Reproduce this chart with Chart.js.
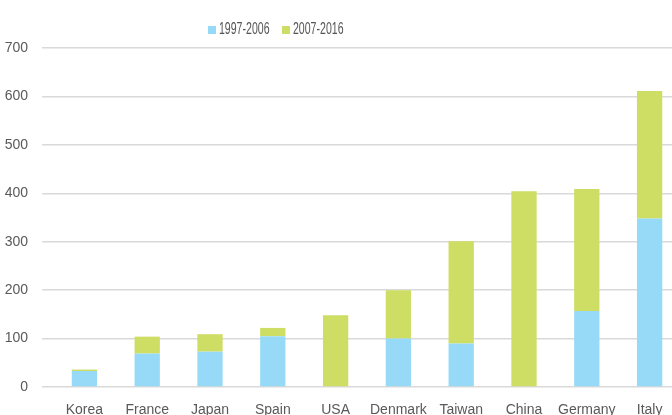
<!DOCTYPE html>
<html>
<head>
<meta charset="utf-8">
<script src="https://cdn.jsdelivr.net/npm/chart.js@4"></script>
<style>
    html, body { margin: 0; padding: 0; overflow: hidden; background: #fff; }
    #wrap { position: absolute; left: 0; top: 0; width: 690px; height: 430px; }
    #legend { position: absolute; left: 0; top: 0; }
    #legend .box { position: absolute; top: 26px; width: 8px; height: 8px; }
    #legend .text {
        position: absolute; top: 20px; line-height: 18px;
        font-family: "Liberation Sans", Arial, sans-serif;
        font-size: 16px; color: #555; white-space: nowrap;
        transform: scaleX(0.66); transform-origin: 0 50%;
    }
</style>
</head>
<body>
<div id="wrap">
    <canvas id="chart" width="690" height="430"></canvas>
    <div id="legend"></div>
</div>
<script>
const categories = ['Korea', 'France', 'Japan', 'Spain', 'USA', 'Denmark', 'Taiwan', 'China', 'Germany', 'Italy'];
const series1997 = [33, 69, 73, 105, 0, 100, 90, 0, 157, 348];
const series2007 = [3, 35, 36, 17, 148, 100, 211, 404, 252, 263];
const seriesNames = ['1997-2006', '2007-2016'];
const seriesColors = ['#97DAF7', '#CEDD63'];

document.addEventListener('DOMContentLoaded', () => {
    // legend drawn as html so the condensed look can be matched
    const legend = document.getElementById('legend');
    const legendX = [208, 282];
    legend.innerHTML = seriesNames.map((name, i) =>
        `<span class="box" style="left:${legendX[i]}px;background:${seriesColors[i]}"></span>` +
        `<span class="text" style="left:${legendX[i] + 11}px">${name}</span>`
    ).join('');

    const ctx = document.getElementById('chart').getContext('2d');
    new Chart(ctx, {
        type: 'bar',
        data: {
            labels: categories,
            datasets: [
                { label: seriesNames[0], data: series1997, backgroundColor: seriesColors[0] },
                { label: seriesNames[1], data: series2007, backgroundColor: seriesColors[1] }
            ]
        },
        options: {
            responsive: false,
            animation: false,
            devicePixelRatio: 1,
            layout: { padding: { top: 48, left: 0, right: 9, bottom: 0 } },
            datasets: { bar: { categoryPercentage: 1, barPercentage: 0.403, borderWidth: 0 } },
            plugins: { legend: { display: false }, tooltip: { enabled: false } },
            scales: {
                x: {
                    stacked: true,
                    grid: { display: false, drawTicks: false },
                    border: { display: false },
                    ticks: {
                        color: '#595959',
                        padding: 15,
                        maxRotation: 0,
                        autoSkip: false,
                        font: { family: '"Liberation Sans", Arial, sans-serif', size: 14 }
                    },
                    afterFit: scale => { scale.height = 43; }
                },
                y: {
                    stacked: true,
                    min: 0,
                    max: 700,
                    grid: { color: '#d9d9d9', lineWidth: 1.5, tickLength: 11, tickColor: '#d9d9d9' },
                    border: { display: false },
                    ticks: {
                        stepSize: 100,
                        color: '#595959',
                        padding: 14,
                        font: { family: '"Liberation Sans", Arial, sans-serif', size: 14 }
                    },
                    afterFit: scale => { scale.width = 53; }
                }
            }
        }
    });
});
</script>
</body>
</html>
